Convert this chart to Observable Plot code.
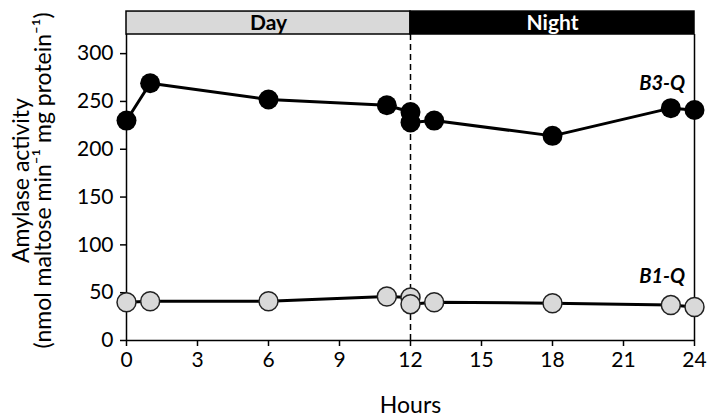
<!DOCTYPE html>
<html><head><meta charset="utf-8">
<script src="https://cdn.jsdelivr.net/npm/d3@7"></script>
<script src="https://cdn.jsdelivr.net/npm/@observablehq/plot@0.6"></script>
<style>body{margin:0;background:#fff}</style>
</head><body><div id="chart"></div>
<script>
const hours = [0, 1, 6, 11, 12, 12, 13, 18, 23, 24];
const b3q = [230, 269, 252, 246, 239, 228, 230, 214, 243, 241];
const b1q = [40, 41, 41, 46, 45, 38, 40, 39, 37, 35];
const periods = ["Day", "Night"];
const periodStart = [0, 12];
const periodEnd = [12, 24];
const xTicks = [0, 3, 6, 9, 12, 15, 18, 21, 24];
const yTicks = [0, 50, 100, 150, 200, 250, 300];
const seriesLabels = ["B3-Q", "B1-Q"];

const b3 = hours.map((h, i) => ({h, v: b3q[i]}));
const b1 = hours.map((h, i) => ({h, v: b1q[i]}));
const bands = periods.map((p, i) => ({p, x1: periodStart[i], x2: periodEnd[i], xm: (periodStart[i] + periodEnd[i]) / 2}));
const font = "Lato, 'Open Sans', sans-serif";

const chart = Plot.plot({
  width: 709, height: 418,
  marginLeft: 126, marginRight: 15, marginTop: 34, marginBottom: 78,
  style: {fontFamily: font, fontSize: "21px", color: "#000", background: "#fff"},
  x: {domain: [0, 24], label: null},
  y: {domain: [0, 320], label: null},
  marks: [
    Plot.ruleY([0], {stroke: "#000", strokeWidth: 1.5}),
    Plot.ruleX([0, 24], {y1: 0, y2: 320, stroke: "#000", strokeWidth: 1.5}),
    Plot.ruleX([12], {y1: 0, y2: 320, stroke: "#000", strokeWidth: 1.5, strokeDasharray: "6,4"}),
    Plot.rect(bands, {x1: "x1", x2: "x2", y1: 320, y2: 344, fill: d => d.p === "Day" ? "#d9d9d9" : "#000", stroke: "#000", strokeWidth: 1.5}),
    Plot.text(bands, {x: "xm", y: 332, text: "p", fill: d => d.p === "Day" ? "#000" : "#fff", fontWeight: "bold", fontSize: 21}),
    Plot.axisX({ticks: xTicks, tickSize: 6, tickPadding: 6, label: null, strokeWidth: 1.5, fontSize: 21}),
    Plot.axisY({ticks: yTicks, tickSize: 6, tickPadding: 7, label: null, strokeWidth: 1.5, fontSize: 21}),
    Plot.line(b1, {x: "h", y: "v", stroke: "#000", strokeWidth: 3}),
    Plot.dot(b1, {x: "h", y: "v", r: 9.5, fill: "#d9d9d9", stroke: "#222", strokeWidth: 1.5}),
    Plot.line(b3, {x: "h", y: "v", stroke: "#000", strokeWidth: 3}),
    Plot.dot(b3, {x: "h", y: "v", r: 10, fill: "#000"}),
    Plot.text([seriesLabels[0]], {x: 23.6, y: 269, text: d => d, fontWeight: "bold", fontStyle: "italic", fontSize: 20, textAnchor: "end"}),
    Plot.text([seriesLabels[1]], {x: 23.6, y: 67, text: d => d, fontWeight: "bold", fontStyle: "italic", fontSize: 20, textAnchor: "end"}),
    Plot.text(["Hours"], {frameAnchor: "bottom", dy: 72, text: d => d, fontSize: 23}),
    Plot.text(["Amylase activity"], {frameAnchor: "left", dx: -105, dy: -7, rotate: -90, textAnchor: "middle", text: d => d, fontSize: 23}),
    Plot.text(["(nmol maltose min\u207B\u00B9 mg protein\u207B\u00B9)"], {frameAnchor: "left", dx: -83, dy: -7, rotate: -90, textAnchor: "middle", text: d => d, fontSize: 23})
  ]
});
document.getElementById("chart").append(chart);
</script>
</body></html>
